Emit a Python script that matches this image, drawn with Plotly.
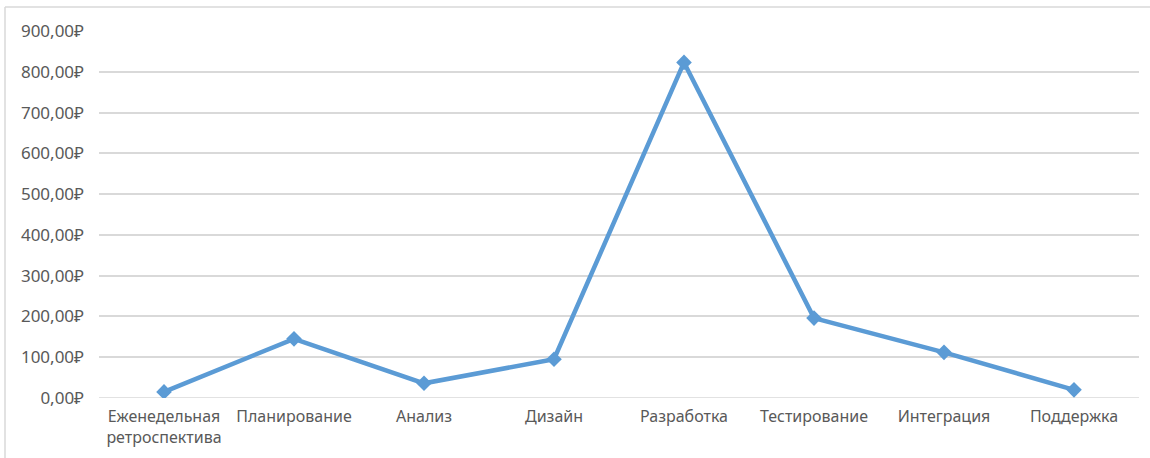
import plotly.graph_objects as go

categories = ["Еженедельная<br>ретроспектива", "Планирование", "Анализ", "Дизайн",
              "Разработка", "Тестирование", "Интеграция", "Поддержка"]
values = [15, 145, 36, 95, 823, 196, 112, 20]
tick_vals = [0, 100, 200, 300, 400, 500, 600, 700, 800, 900]
tick_text = ["0,00₽", "100,00₽", "200,00₽", "300,00₽", "400,00₽", "500,00₽",
             "600,00₽", "700,00₽", "800,00₽", "900,00₽"]

W, H = 1150, 458
L, R, T, B = 99, 11, 31, 60
pw, ph = W - L - R, H - T - B

def px(x):
    return (x - L) / pw

def py(y):
    return (H - B - y) / ph

fig = go.Figure()
fig.add_trace(go.Scatter(
    x=categories, y=values, mode="lines+markers",
    line=dict(color="#5B9BD5", width=4.5),
    marker=dict(symbol="diamond", size=12, color="#5B9BD5"),
    hoverinfo="skip", showlegend=False,
))

fig.update_layout(
    width=W, height=H,
    margin=dict(l=L, r=R, t=T, b=B, pad=0),
    paper_bgcolor="white", plot_bgcolor="white",
    font=dict(family="Noto Sans", size=16, color="#595959"),
    xaxis=dict(type="category", showgrid=False, zeroline=False, showline=False,
               ticks="", tickfont=dict(size=16, color="#595959"),
               ticklabelstandoff=7,
               range=[-0.5, len(categories) - 0.5], fixedrange=True),
    yaxis=dict(range=[0, 900], tickvals=tick_vals, ticktext=tick_text,
               showgrid=True, gridcolor="#D9D9D9", gridwidth=1.5,
               zeroline=False, showline=False, ticks="",
               ticklabelstandoff=14,
               tickfont=dict(size=17, color="#595959"), fixedrange=True),
    shapes=[
        dict(type="line", xref="paper", yref="paper", x0=px(5), x1=px(W + 5),
             y0=py(7), y1=py(7), line=dict(color="#D9D9D9", width=1.5)),
        dict(type="line", xref="paper", yref="paper", x0=px(5), x1=px(5),
             y0=py(7), y1=py(H + 5), line=dict(color="#D9D9D9", width=1.5)),
        dict(type="line", xref="paper", yref="y", x0=0, x1=1, y0=0, y1=0,
             line=dict(color="#D9D9D9", width=1.5), layer="below"),
    ],
)

fig.write_html("out.html")
